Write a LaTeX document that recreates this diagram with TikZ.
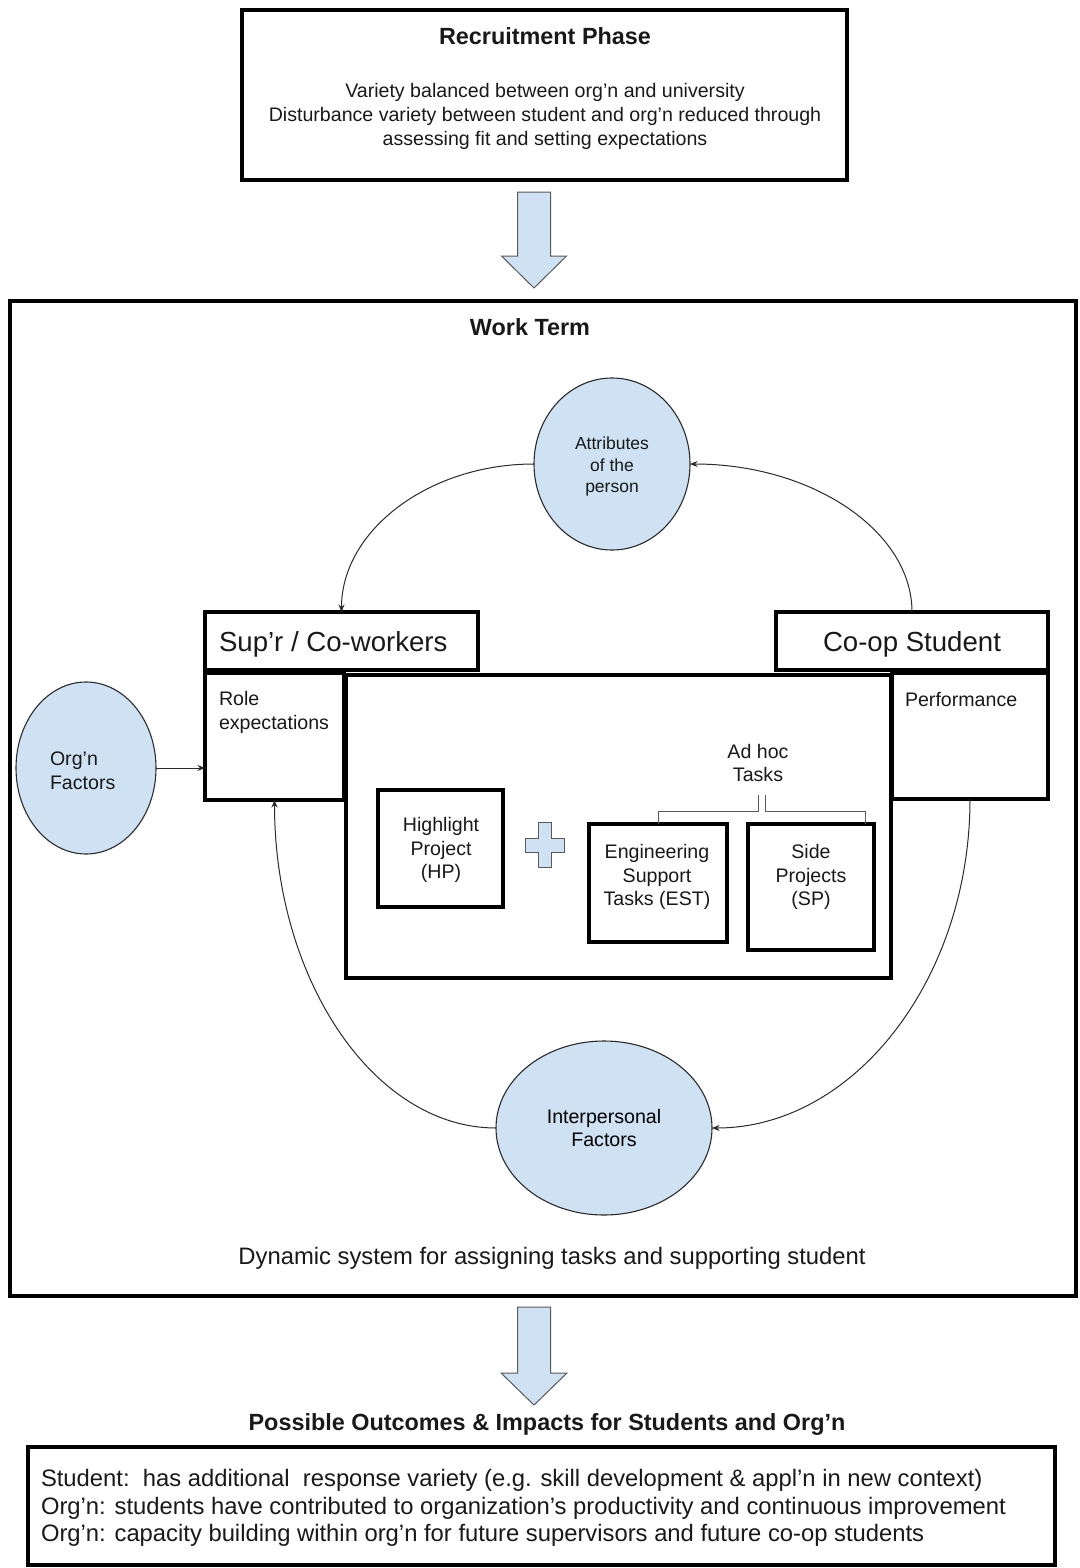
\documentclass[tikz,border=0pt]{standalone}
\usepackage{fontspec}
\setmainfont{Liberation Sans}
\usetikzlibrary{arrows.meta,shapes.geometric}
\definecolor{pale}{HTML}{CFE2F3}
\definecolor{ink}{HTML}{2B2B2B}
\definecolor{rim}{HTML}{595959}
\newcommand\fBody{\fontsize{19.6}{23.6}\selectfont}
\newcommand\fSmall{\fontsize{17.5}{21.3}\selectfont}
\newcommand\fBig{\fontsize{27.6}{32}\selectfont}
\newcommand\fWide{\fontsize{23.8}{27.5}\selectfont}
\newcommand\fHead{\fontsize{23.4}{28}\selectfont\bfseries}
\begin{document}
\begin{tikzpicture}[x=1pt,y=-1pt,
  box/.style={draw=black,line width=3.5pt,rectangle,inner sep=0pt,outer sep=0pt},
  bubble/.style={ellipse,draw=ink,line width=1.1pt,fill=pale,inner sep=0pt,outer sep=0pt,align=center,font=\fBody},
  txt/.style={inner sep=0pt,outer sep=0pt,text=black!90},
  link/.style={draw=ink,line width=1pt,-{Stealth[length=7.5pt,width=6pt]}},
  block/.style={fill=pale,draw=rim,line width=1pt,line join=miter},
  brace/.style={draw=rim,line width=1pt}
]
\useasboundingbox[fill=white] (0,0) rectangle (1079,1568);

% ---- recruitment phase ----
\node[box,minimum width=605pt,minimum height=170pt] (recruit) at (544.5,95) {};
\node[txt,font=\fHead] (recruitHead) at (545,36) {Recruitment Phase};
\node[txt,font=\fBody,align=center] (recruitBody) at (545,116.5)
  {Variety balanced between org'n and university\\
   Disturbance variety between student and org'n reduced through\\
   assessing fit and setting expectations};

% block arrow into the work term
\draw[block] (517.5,192) -- (550.5,192) -- (550.5,256) -- (566.5,256) -- (534,288)
  -- (501.5,256) -- (517.5,256) -- cycle;

% ---- work term ----
\node[box,minimum width=1066pt,minimum height=995pt] (work) at (543,798.5) {};
\node[txt,font=\fHead] (workHead) at (530,327) {Work Term};

\node[bubble,font=\fSmall,minimum width=156pt,minimum height=172pt] (attr) at (612,464) {};
\node[txt,font=\fSmall,align=center] (attrText) at (612,466.5) {Attributes\\of the\\person};
\node[bubble,minimum width=140pt,minimum height=172pt] (orgn) at (86,768) {};
\node[txt,font=\fBody,align=left,anchor=west] (orgnText) at (50,771) {Org'n\\Factors};
\node[bubble,minimum width=216pt,minimum height=174pt] (inter) at (604,1128)
  {Interpersonal\\Factors};

\node[box,minimum width=273pt,minimum height=58pt] (supr) at (341.5,641) {};
\node[txt,font=\fBig,anchor=west] (suprText) at (219,644) {Sup’r / Co-workers};
\node[box,minimum width=272pt,minimum height=58pt] (coop) at (912,641) {};
\node[txt,font=\fBig] (coopText) at (912,644) {Co-op Student};

\node[box,minimum width=139pt,minimum height=127pt] (role) at (274.5,736.5) {};
\node[txt,font=\fBody,align=left,anchor=west] (roleText) at (219,712.5) {Role\\expectations};
\node[box,minimum width=156pt,minimum height=126pt] (perf) at (970,736) {};
\node[txt,font=\fBody,anchor=west] (perfText) at (905,699.5) {Performance};

\node[box,minimum width=545pt,minimum height=303pt] (tasks) at (618.5,826.5) {};
\node[box,minimum width=125pt,minimum height=117pt] (hp) at (440.5,848.5) {};
\node[txt,font=\fBody,align=center] (hpText) at (441,850) {Highlight\\Project\\(HP)};
\node[box,minimum width=138pt,minimum height=118pt] (est) at (658,883) {};
\node[txt,font=\fBody,align=center] (estText) at (657,877) {Engineering\\Support\\Tasks (EST)};
\node[box,minimum width=126pt,minimum height=126pt] (sp) at (811,887) {};
\node[txt,font=\fBody,align=center] (spText) at (811,877) {Side\\Projects\\(SP)};
\node[txt,font=\fBody,align=center] (adhoc) at (758,763) {Ad hoc\\Tasks};

% plus sign between the highlight project and the ad hoc tasks
\draw[block] (538,822) -- (551,822) -- (551,838) -- (564,838) -- (564,852) -- (551,852)
  -- (551,867) -- (538,867) -- (538,852) -- (525,852) -- (525,838) -- (538,838) -- cycle;

% bracket grouping the ad hoc tasks
\coordinate (braceL) at (758,795);
\coordinate (braceR) at (765,795);
\draw[brace] (est.north) -- (658,811) -| (braceL);
\draw[brace] (braceR) -- (765,811) -| (865,824);

% feedback loop
\draw[link] (coop.north) .. controls +(0,-81) and +(122,0) .. (attr.east);
\draw[link] (attr.west) .. controls +(-106,0) and +(0,-81) .. (supr.north);
\draw[link] (perf.south) .. controls +(0,180) and +(142,0) .. (inter.east);
\draw[link] (inter.west) .. controls +(-122,0) and +(0,180) .. (role.south);
\draw[link] (orgn.east) -- (orgn.east -| role.west);

\node[txt,font=\fWide] (dynamic) at (552,1258)
  {Dynamic system for assigning tasks and supporting student};

% block arrow to the outcomes
\draw[block] (517.5,1307) -- (550.5,1307) -- (550.5,1373) -- (567,1373) -- (534,1405)
  -- (501,1373) -- (517.5,1373) -- cycle;

% ---- outcomes ----
\node[txt,font=\fHead] (outHead) at (547,1424) {Possible Outcomes \& Impacts for Students and Org'n};
\node[box,minimum width=1027pt,minimum height=118pt] (outcomes) at (541.5,1506) {};
\node[txt,font=\fWide,align=left,anchor=west] (outText) at (41,1508)
  {Student:\ \ has additional\ \ response variety (e.g. skill development \& appl’n in new context)\\
   Org’n: students have contributed to organization’s productivity and continuous improvement\\
   Org’n: capacity building within org’n for future supervisors and future co-op students};
\end{tikzpicture}
\end{document}
